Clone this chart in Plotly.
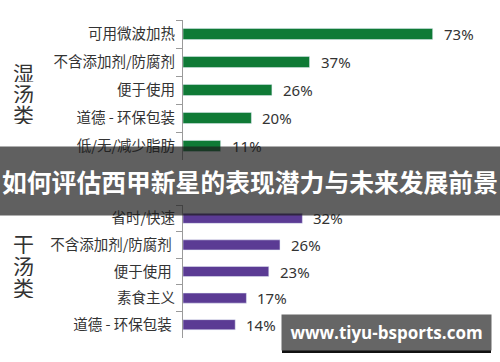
import plotly.graph_objects as go

W, H = 500, 362

wet_categories = ["可用微波加热", "不含添加剂/防腐剂", "便于使用", "道德 - 环保包装", "低/无/减少脂肪"]
wet_values = [73, 37, 26, 20, 11]
dry_categories = ["省时/快速", "不含添加剂/防腐剂 ", "便于使用 ", "素食主义", "道德 - 环保包装 "]
dry_values = [32, 26, 23, 17, 14]
wet_group_label = "湿汤类"
dry_group_label = "干汤类"
title_text = "如何评估西甲新星的表现潜力与未来发展前景"
watermark_text = "www.tiyu-bsports.com"

GREEN = "#0f7a36"
PURPLE = "#5b3b94"
CJK = "Noto Sans CJK SC"


def px_x(p):
    return p / W


def px_y(p):
    return 1 - p / H


fig = go.Figure()
fig.add_trace(go.Bar(x=wet_values, y=wet_categories, orientation="h", marker_color=GREEN,
                     width=0.4, xaxis="x", yaxis="y", hoverinfo="skip"))
fig.add_trace(go.Bar(x=dry_values, y=dry_categories, orientation="h", marker_color=PURPLE,
                     width=0.38, xaxis="x2", yaxis="y2", hoverinfo="skip"))

axis_common_y = dict(type="category", autorange="reversed", showline=True, linecolor="#9a9a9a",
                     linewidth=1, ticks="outside", tickson="boundaries", ticklen=6,
                     tickcolor="#9a9a9a", showgrid=False, zeroline=False,
                     tickfont=dict(family=CJK, size=14.5, color="#333333"), ticklabelstandoff=4)
axis_common_x = dict(visible=False, showgrid=False, zeroline=False)

fig.update_layout(
    width=W, height=H,
    margin=dict(l=0, r=0, t=0, b=0),
    paper_bgcolor="white", plot_bgcolor="white",
    showlegend=False,
    xaxis=dict(domain=[px_x(183), 1], range=[0, 317 / 3.42], anchor="y", **axis_common_x),
    yaxis=dict(domain=[px_y(160), px_y(20)], anchor="x", **axis_common_y),
    xaxis2=dict(domain=[px_x(183), 1], range=[0, 317 / 3.73], anchor="y2", **axis_common_x),
    yaxis2=dict(domain=[px_y(338), px_y(205)], anchor="x2", **axis_common_y),
)

annotations = []
for c, v in zip(wet_categories, wet_values):
    annotations.append(dict(x=v, y=c, xref="x", yref="y", text=f"{v}%", showarrow=False,
                            xanchor="left", yanchor="middle", xshift=9,
                            font=dict(family="Noto Sans", size=15, color="#333333")))
for c, v in zip(dry_categories, dry_values):
    annotations.append(dict(x=v, y=c, xref="x2", yref="y2", text=f"{v}%", showarrow=False,
                            xanchor="left", yanchor="middle", xshift=9,
                            font=dict(family="Noto Sans", size=15, color="#333333")))

# vertical group labels
for i, ch in enumerate(wet_group_label):
    annotations.append(dict(x=px_x(23), y=px_y(71 + 21 * i), xref="paper", yref="paper", text=ch,
                            showarrow=False, xanchor="center", yanchor="middle", height=21,
                            font=dict(family=CJK, size=21, color="#333333")))
for i, ch in enumerate(dry_group_label):
    annotations.append(dict(x=px_x(23), y=px_y(243 + 22 * i), xref="paper", yref="paper", text=ch,
                            showarrow=False, xanchor="center", yanchor="middle", height=22,
                            font=dict(family=CJK, size=21, color="#333333")))

# banner overlay
annotations.append(dict(x=0.5, y=px_y(181), xref="paper", yref="paper", text=title_text,
                        showarrow=False, xanchor="center", yanchor="middle",
                        width=W, height=68, bgcolor="rgba(28,28,28,0.7)", borderpad=0,
                        font=dict(family=CJK, size=24.8, color="white", weight="bold")))

# watermark
annotations.append(dict(x=px_x(386.5), y=px_y(332.5), xref="paper", yref="paper", text=watermark_text,
                        showarrow=False, xanchor="center", yanchor="middle",
                        width=209, height=35, bgcolor="#666666", borderpad=0,
                        font=dict(family="Open Sans", size=17, color="white", weight="bold")))

fig.update_layout(annotations=annotations)
fig.add_shape(type="rect", xref="paper", yref="paper", x0=px_x(282), x1=px_x(491),
              y0=px_y(353), y1=px_y(348), fillcolor="#111111", line_width=0, layer="above")

fig.write_html("out.html", config={"displayModeBar": False},
               post_script="document.body.style.margin='0';document.body.style.overflow='hidden';")
